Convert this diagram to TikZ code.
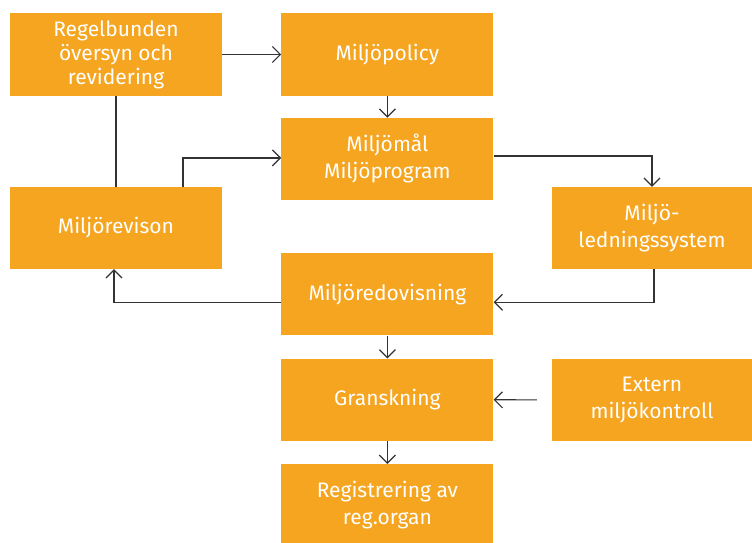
\documentclass[tikz,border=0pt]{standalone}
\usepackage{fontspec}
\setmainfont{Fira Sans}
\usetikzlibrary{arrows.meta, positioning}
\definecolor{ink}{HTML}{333333}
\definecolor{boxfill}{HTML}{F6A520}

\begin{document}
\begin{tikzpicture}[
  x=1pt, y=-1pt,
  node distance=22pt and 59pt,
  box/.style={fill=boxfill, text=white, align=center, inner sep=0pt,
              font=\fontsize{21}{27}\selectfont,
              minimum width=212pt, minimum height=82pt},
  side/.style={box, minimum width=200pt},
  lnk/.style={line width=1.2pt, draw=ink},
  arr/.style={lnk, -{Straight Barb[length=8pt, width=16pt]}}
]
\useasboundingbox (0,0) rectangle (752,543);
\node[box] (reg) at (116,54.5) {Regelbunden\\[-3pt] översyn och\\[-3pt] revidering};
\node[box, right=of reg] (policy) {Miljöpolicy};
\node[box, below=of policy] (mal) {Miljömål\\ Miljöprogram};
\node[box] (revison) at (116,228) {Miljörevison};
\node[side] (system) at (652,228) {Miljö-\\ ledningssystem};
\node[box, below=53pt of mal] (redov) {Miljöredovisning};
\node[box, below=23pt of redov] (gransk) {Granskning};
\node[side] (extern) at (652,400) {Extern\\ miljökontroll};
\node[box, below=23pt of gransk] (registr) {Registrering av\\ reg.organ};
\draw[arr] (reg) -- (policy);
\draw[arr] (policy) -- (mal);
\draw[lnk] (reg) -- (revison);
\draw[arr] ([xshift=67pt]revison.north) |- ([yshift=1pt]mal.west);
\draw[arr] ([yshift=3pt]mal.east) -| (system.north);
\draw[arr] ([xshift=2pt]system.south) |- ([yshift=-8pt]redov.east);
\draw[arr] ([yshift=-8pt]redov.west) -| ([xshift=-2pt]revison.south);
\draw[arr] (redov) -- (gransk);
\draw[arr, shorten <=15pt] (extern) -- (gransk);
\draw[arr] (gransk) -- (registr);
\end{tikzpicture}
\end{document}
